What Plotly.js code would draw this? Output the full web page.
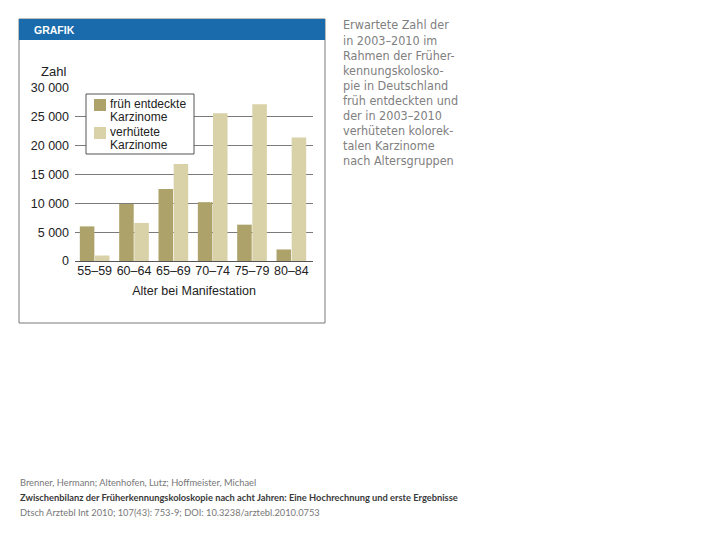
<!DOCTYPE html>
<html>
<head>
<meta charset="utf-8">
<script src="https://cdn.plot.ly/plotly-3.0.1.min.js"></script>
<style>html,body{margin:0;padding:0;background:#fff;}#chart{width:720px;height:540px;}</style>
</head>
<body>
<div id="chart"></div>
<script>
const categories = ["55–59", "60–64", "65–69", "70–74", "75–79", "80–84"];
const fruehEntdeckt = [6000, 9900, 12500, 10200, 6300, 2000];
const verhuetet = [950, 6600, 16800, 25600, 27200, 21400];
const yTickVals = [0, 5000, 10000, 15000, 20000, 25000, 30000];
const yTickText = ["0", "5 000", "10 000", "15 000", "20 000", "25 000", "30 000"];
const seriesNames = ["früh entdeckte<br>Karzinome", "verhütete<br>Karzinome"];
const seriesColors = ["#aea26b", "#d9d1a7"];
const sideText = ["Erwartete Zahl der", "in 2003–2010 im", "Rahmen der Früher-", "kennungskolosko-", "pie in Deutschland", "früh entdeckten und", "der in 2003–2010", "verhüteten kolorek-", "talen Karzinome", "nach Altersgruppen"];
const citation = ["Brenner, Hermann; Altenhofen, Lutz; Hoffmeister, Michael",
  "Zwischenbilanz der Früherkennungskoloskopie nach acht Jahren: Eine Hochrechnung und erste Ergebnisse",
  "Dtsch Arztebl Int 2010; 107(43): 753-9; DOI: 10.3238/arztebl.2010.0753"];

const W = 720, H = 540;
const px = x => x / W;
const py = y => 1 - y / H;

const traces = [
  {type: "bar", x: categories, y: fruehEntdeckt, name: seriesNames[0], marker: {color: seriesColors[0]}},
  {type: "bar", x: categories, y: verhuetet, name: seriesNames[1], marker: {color: seriesColors[1]}}
];

const annotations = [
  {text: "<b>GRAFIK</b>", x: px(32), y: py(30), xref: "paper", yref: "paper", xanchor: "left", yanchor: "middle", showarrow: false, font: {family: "Liberation Sans", size: 10.5, color: "#ffffff"}},
  {text: "Zahl", x: px(68), y: py(71), xref: "paper", yref: "paper", xanchor: "right", yanchor: "middle", showarrow: false, font: {family: "Liberation Sans", size: 13, color: "#222"}}
];
sideText.forEach((t, i) => {
  annotations.push({text: t, x: px(342), y: py(25 + i * 15.1), xref: "paper", yref: "paper", xanchor: "left", yanchor: "middle", showarrow: false, borderpad: 0, font: {family: "DejaVu Sans Condensed, Liberation Sans", size: 12.5, color: "#808080"}});
});
citation.forEach((t, i) => {
  annotations.push({text: i === 1 ? "<b>" + t + "</b>" : t, x: px(18), y: py(482 + i * 15), xref: "paper", yref: "paper", xanchor: "left", yanchor: "middle", showarrow: false, font: {family: "Lato, Open Sans", size: 9.3, color: i === 1 ? "#3a3a3a" : "#777"}});
});

// custom legend (box, swatches, labels)
const legendTop = 94, legendBottom = 154, legendLeft = 86, legendRight = 194;
const shapes = [
  {type: "rect", xref: "paper", yref: "paper", x0: px(19), x1: px(325), y0: py(323), y1: py(19), line: {color: "#7a7a7a", width: 1}, fillcolor: "rgba(0,0,0,0)", layer: "below"},
  {type: "rect", xref: "paper", yref: "paper", x0: px(19), x1: px(325), y0: py(40), y1: py(19), line: {width: 0}, fillcolor: "#1a6bab", layer: "below"},
  {type: "rect", xref: "paper", yref: "paper", x0: px(legendLeft), x1: px(legendRight), y0: py(legendBottom), y1: py(legendTop), line: {color: "#555", width: 1}, fillcolor: "#ffffff", layer: "above"}
];
const itemY = [105, 133];
seriesNames.forEach((name, i) => {
  shapes.push({type: "rect", xref: "paper", yref: "paper", x0: px(94), x1: px(106), y0: py(itemY[i] + 6), y1: py(itemY[i] - 6), line: {width: 0}, fillcolor: seriesColors[i], layer: "above"});
  name.split("<br>").forEach((line, j) => {
    annotations.push({text: line, x: px(109), y: py(itemY[i] - 1 + j * 13.5), xref: "paper", yref: "paper", xanchor: "left", yanchor: "middle", showarrow: false, borderpad: 0, font: {family: "Liberation Sans", size: 12, color: "#222"}});
  });
});

const layout = {
  width: W, height: H,
  margin: {l: 0, r: 0, t: 0, b: 0},
  paper_bgcolor: "#ffffff", plot_bgcolor: "rgba(0,0,0,0)",
  showlegend: false,
  barmode: "group", bargap: 0.23, bargroupgap: 0.04,
  font: {family: "Liberation Sans", size: 12, color: "#222"},
  xaxis: {domain: [px(75), px(313)], range: [-0.5, 5.55], showgrid: false, zeroline: false, showline: false, ticks: "",
    tickfont: {size: 12.5, color: "#222"},
    title: {text: "Alter bei Manifestation", font: {size: 12.5, color: "#222"}, standoff: 9}},
  yaxis: {domain: [py(261), py(88)], range: [0, 30000], tickvals: yTickVals, ticktext: yTickText,
    showgrid: true, gridcolor: "#7a7a7a", gridwidth: 1, zeroline: true, zerolinecolor: "#555", zerolinewidth: 1,
    showline: false, ticks: "", ticklabelstandoff: 5, tickfont: {size: 12.5, color: "#222"}},
  shapes: shapes,
  annotations: annotations
};

Plotly.newPlot("chart", traces, layout, {displayModeBar: false, staticPlot: true});
</script>
</body>
</html>
